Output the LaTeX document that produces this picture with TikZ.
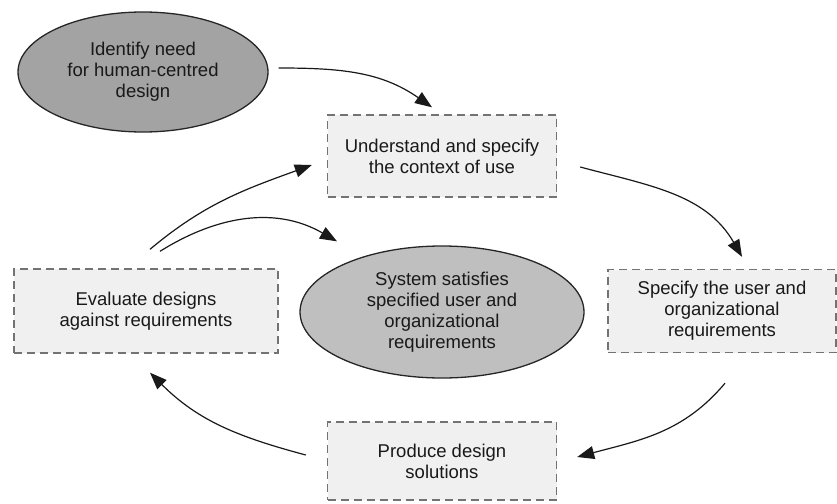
\documentclass[tikz,border=0pt]{standalone}
\usepackage{fontspec}
\setmainfont{Liberation Sans}
\usepackage{tikz}
\usetikzlibrary{arrows.meta,shapes.geometric}

\begin{document}
\begin{tikzpicture}[
  x=1pt, y=-1pt,
  font=\fontsize{18.5}{21}\selectfont,
  stage/.style={draw=black!55, dashed, dash pattern=on 8pt off 5pt, line width=1.4pt, fill=black!6, align=center, inner sep=0pt, text=black!90},
  goal/.style={ellipse, draw=black!85, line width=1.3pt, align=center, inner sep=0pt, text=black!90},
  arr/.style={-{Triangle[length=17pt,width=13pt]}, line width=1.2pt, draw=black!90},
]
\useasboundingbox (0,0) rectangle (837,503);
% outer states
\node[goal, fill=black!36, minimum width=250pt, minimum height=120pt] (need) at (143,72) {Identify need\\for human-centred\\design};
\node[goal, fill=black!25, minimum width=284pt, minimum height=132pt] (sys) at (442,312) {System satisfies\\specified user and\\organizational\\requirements};
% activities
\node[stage, minimum width=229pt, minimum height=82pt] (context) at (442,156) {Understand and specify\\the context of use};
\node[stage, minimum width=228pt, minimum height=83pt] (spec) at (722,311) {Specify the user and\\organizational\\requirements};
\node[stage, minimum width=229pt, minimum height=78pt] (prod) at (442,461) {Produce design\\solutions};
\node[stage, minimum width=264pt, minimum height=84pt] (eval) at (146,311) {Evaluate designs\\against requirements};
% arrows
\draw[arr] ([xshift=10pt,yshift=4pt]need.east) to[out=0, in=145] ([xshift=-10pt,yshift=7pt]context.north);
\draw[arr] ([xshift=23pt,yshift=-11pt]context.east) to[out=-15, in=120] ([xshift=20pt,yshift=12pt]spec.north);
\draw[arr] ([xshift=3pt,yshift=-30pt]spec.south) to[out=-130, in=15] ([xshift=20pt,yshift=4pt]prod.east);
\draw[arr] ([xshift=-21pt,yshift=6pt]prod.west) to[out=165, in=-45] ([xshift=4pt,yshift=-19pt]eval.south);
\draw[arr] ([xshift=4pt,yshift=19pt]eval.north) to[out=40, in=200] ([xshift=-15pt,yshift=-9pt]context.west);
\draw[arr] ([xshift=14pt,yshift=17pt]eval.north) to[out=32, in=150] ([xshift=-105pt,yshift=4pt]sys.north);
\end{tikzpicture}
\end{document}
